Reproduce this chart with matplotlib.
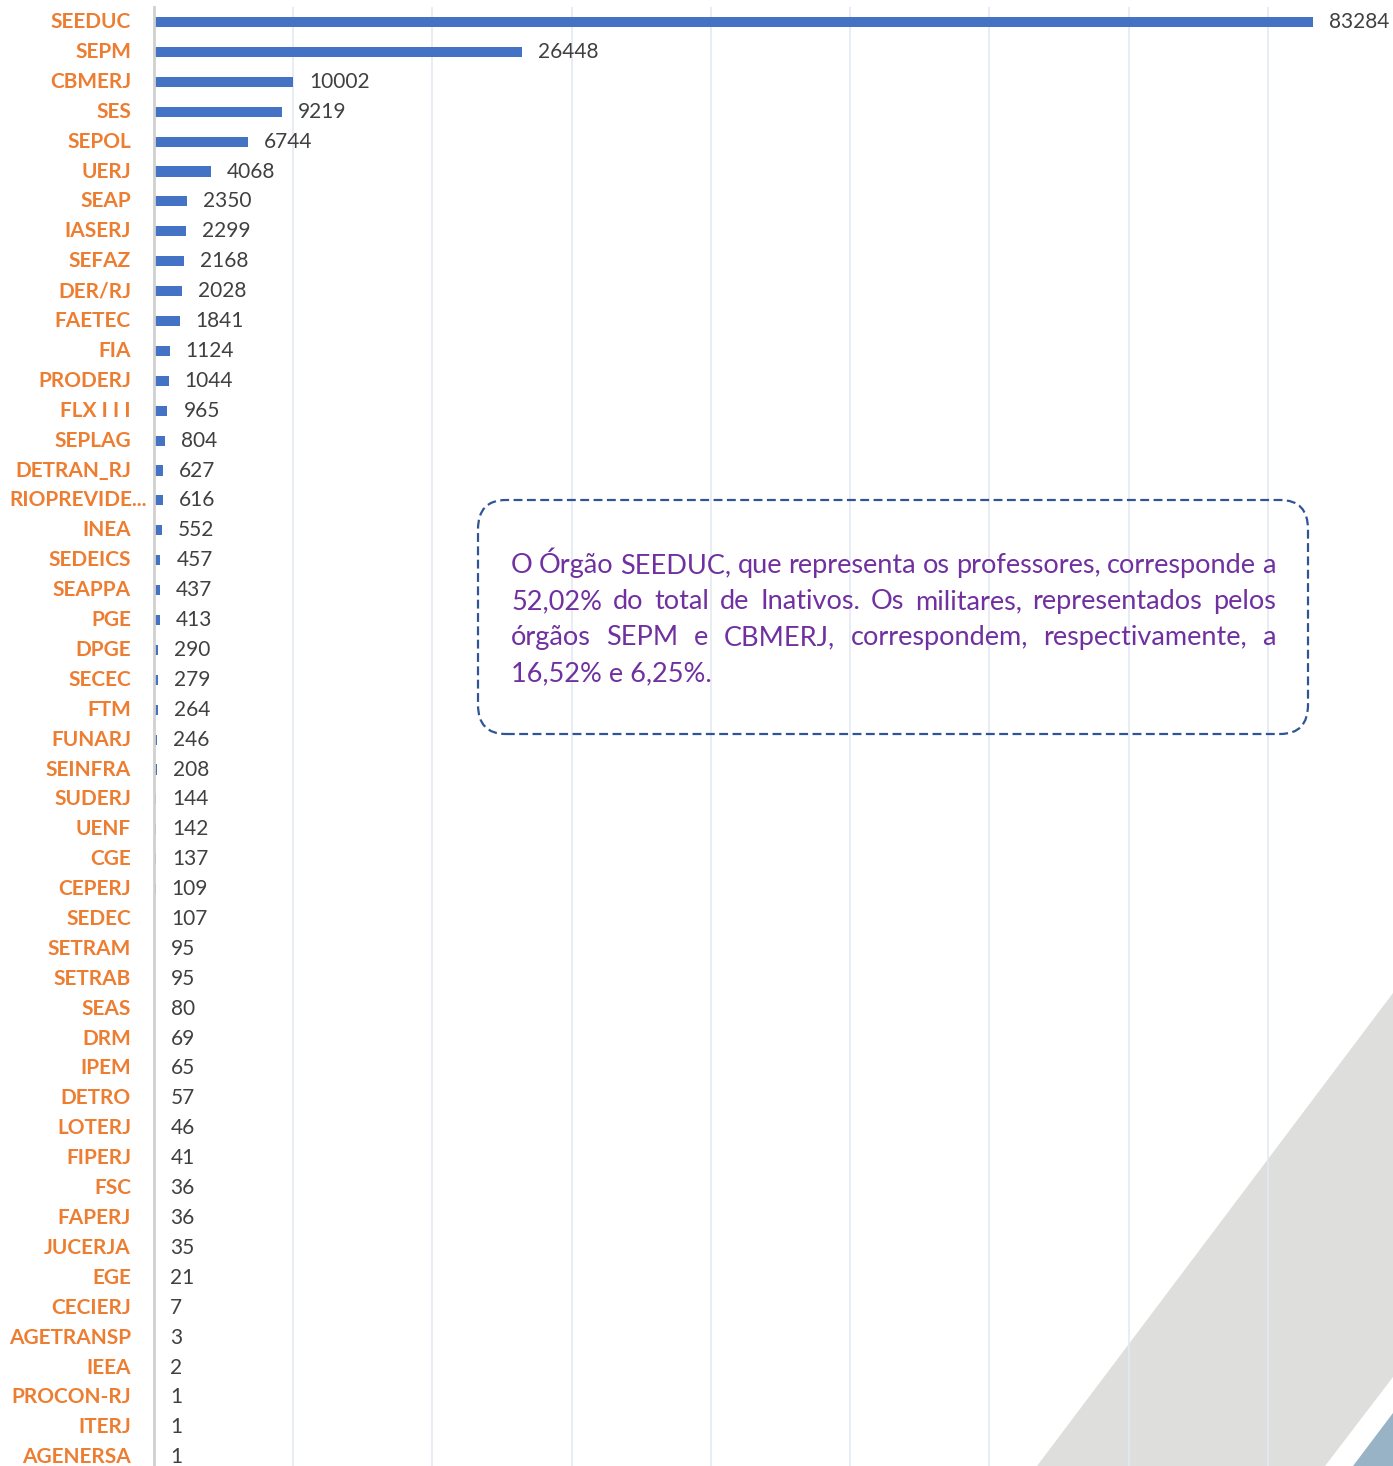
import matplotlib
matplotlib.use("Agg")
import matplotlib.pyplot as plt
from matplotlib.patches import FancyBboxPatch, Polygon
from matplotlib.transforms import blended_transform_factory, ScaledTranslation

# dados do gráfico
orgaos = ["SEEDUC", "SEPM", "CBMERJ", "SES", "SEPOL", "UERJ", "SEAP", "IASERJ",
          "SEFAZ", "DER/RJ", "FAETEC", "FIA", "PRODERJ", "FLX I I I", "SEPLAG",
          "DETRAN_RJ", "RIOPREVIDE...", "INEA", "SEDEICS", "SEAPPA", "PGE", "DPGE",
          "SECEC", "FTM", "FUNARJ", "SEINFRA", "SUDERJ", "UENF", "CGE", "CEPERJ",
          "SEDEC", "SETRAM", "SETRAB", "SEAS", "DRM", "IPEM", "DETRO", "LOTERJ",
          "FIPERJ", "FSC", "FAPERJ", "JUCERJA", "EGE", "CECIERJ", "AGETRANSP",
          "IEEA", "PROCON-RJ", "ITERJ", "AGENERSA"]
inativos = [83284, 26448, 10002, 9219, 6744, 4068, 2350, 2299, 2168, 2028, 1841,
            1124, 1044, 965, 804, 627, 616, 552, 457, 437, 413, 290, 279, 264,
            246, 208, 144, 142, 137, 109, 107, 95, 95, 80, 69, 65, 57, 46, 41,
            36, 36, 35, 21, 7, 3, 2, 1, 1, 1]

linhas_texto = ["O Órgão SEEDUC, que representa os professores, corresponde a",
                "52,02% do total de Inativos. Os militares, representados pelos",
                "órgãos SEPM e CBMERJ, correspondem, respectivamente, a",
                "16,52% e 6,25%."]

W, H = 1393, 1466
DPI = 100
fig = plt.figure(figsize=(W / DPI, H / DPI), dpi=DPI)
fig.patch.set_facecolor("white")

def fx(x):
    return x / W

def fy(y):
    return 1 - y / H

# decoração no canto inferior direito
cinza = Polygon([(fx(1037), fy(1466)), (fx(1393), fy(993)), (fx(1393), fy(1377)),
                 (fx(1325), fy(1466))], closed=True, transform=fig.transFigure,
                facecolor="#dededc", edgecolor="none", zorder=-2)
azul = Polygon([(fx(1353), fy(1466)), (fx(1393), fy(1413)), (fx(1393), fy(1466))],
               closed=True, transform=fig.transFigure,
               facecolor="#98b3c6", edgecolor="none", zorder=-2)
fig.patches.extend([cinza, azul])

n = len(orgaos)
passo = 29.9
ax_top = 22 - passo / 2
ax_h = n * passo
ax = fig.add_axes([fx(154), fy(ax_top + ax_h), (1407 - 154) / W, ax_h / H])
ax.set_facecolor("none")

y = list(range(n))
ax.barh(y, inativos, height=0.34, color="#4472C4", zorder=3)
ax.set_xlim(0, 90000)
ax.set_ylim(n - 0.5, -0.5)

ax.set_xticks(range(0, 90001, 10000))
ax.tick_params(axis="x", length=0, labelbottom=False)
ax.grid(axis="x", color="#e3e9f3", linewidth=1.2, zorder=0)
ax.set_yticks([])
for s in ["top", "right", "bottom"]:
    ax.spines[s].set_visible(False)
ax.spines["left"].set_color("#d0d0d0")
ax.spines["left"].set_linewidth(2)
ax.spines["left"].set_zorder(4)

# rótulos das categorias
trans = blended_transform_factory(ax.transAxes, ax.transData)
for i, nome in enumerate(orgaos):
    dx = -23 if not nome.endswith("...") else -7
    ax.text(0, i, nome, ha="right", va="center", fontsize=15, fontweight="bold",
            family="Lato", color="#ED7D31",
            transform=trans + ScaledTranslation(dx / DPI, 0, fig.dpi_scale_trans))

# valores
for i, v in enumerate(inativos):
    ax.annotate(str(v), (v, i), xytext=(11.5, 0), textcoords="offset points",
                ha="left", va="center", fontsize=15, family="Lato", color="#404040")

# caixa de texto
caixa = FancyBboxPatch((fx(478), fy(734)), fx(1308) - fx(478), fy(500) - fy(734),
                       boxstyle="round,pad=0,rounding_size=0.02",
                       transform=fig.transFigure, facecolor="none",
                       edgecolor="#2F5597", linewidth=1.6, linestyle=(0, (4, 2)),
                       zorder=5)
fig.patches.append(caixa)

renderer = fig.canvas.get_renderer()
x0, x1 = 511, 1276
base = [573, 609, 645, 681]
estilo = dict(fontsize=19.5, family="Lato", color="#7030A0", va="baseline",
              ha="left", transform=fig.transFigure, zorder=6)
for k, linha in enumerate(linhas_texto):
    if k == len(linhas_texto) - 1:
        fig.text(fx(x0), fy(base[k]), linha, **estilo)
        continue
    palavras = linha.split(" ")
    objs = [fig.text(0, fy(base[k]), p, **estilo) for p in palavras]
    larguras = [t.get_window_extent(renderer).width for t in objs]
    gap = (x1 - x0 - sum(larguras)) / (len(palavras) - 1)
    pos = x0
    for t, w in zip(objs, larguras):
        t.set_x(fx(pos))
        pos += w + gap

fig.savefig("out.png", dpi=DPI)
